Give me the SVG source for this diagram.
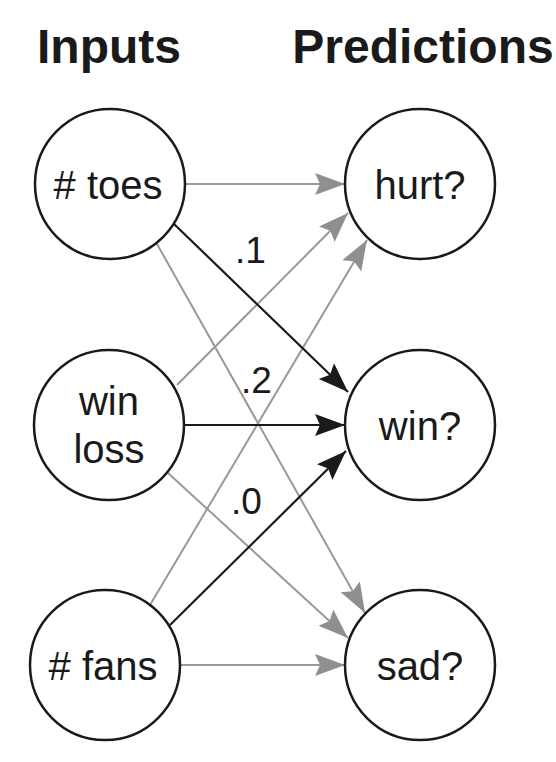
<svg xmlns="http://www.w3.org/2000/svg" width="556" height="762" viewBox="0 0 556 762">
<style>
.node circle{fill:#fff;stroke:#1a1a1a;stroke-width:2.5}
.lbl{font-family:"Liberation Sans",Arial,sans-serif;font-size:40px;fill:#1a1a1a;text-anchor:middle}
.hdr{font-family:"Liberation Sans",Arial,sans-serif;font-size:48px;font-weight:bold;fill:#1a1a1a;text-anchor:middle}
.w{font-family:"Liberation Sans",Arial,sans-serif;font-size:37px;fill:#1a1a1a}
.g{stroke:#999;stroke-width:2;fill:none;marker-end:url(#ag)}
.b{stroke:#1a1a1a;stroke-width:2.2;fill:none;marker-end:url(#ab)}
</style>
<defs>
<marker id="ag" markerUnits="userSpaceOnUse" markerWidth="32" markerHeight="24" refX="30" refY="11" orient="auto">
<path d="M0,0 L30,11 L0,22 L5,11 z" fill="#8f8f8f"/>
</marker>
<marker id="ab" markerUnits="userSpaceOnUse" markerWidth="32" markerHeight="24" refX="30" refY="11" orient="auto">
<path d="M0,0 L30,11 L0,22 L5,11 z" fill="#1a1a1a"/>
</marker>
</defs>
<text class="hdr" x="109" y="63">Inputs</text>
<text class="hdr" x="423" y="63">Predictions</text>
<g id="connectors">
<line class="g" x1="185" y1="184" x2="345" y2="184"/>
<line class="g" x1="157" y1="244" x2="365" y2="613"/>
<line class="g" x1="177" y1="385" x2="348" y2="213"/>
<line class="g" x1="168" y1="473" x2="348" y2="638"/>
<line class="g" x1="150" y1="605" x2="367" y2="240"/>
<line class="g" x1="180" y1="665" x2="345" y2="665"/>
<line class="b" x1="174" y1="224" x2="348" y2="392"/>
<line class="b" x1="185" y1="425" x2="345" y2="425"/>
<line class="b" x1="170" y1="625" x2="346" y2="451"/>
</g>
<g id="weights">
<text class="w" x="235" y="263">.1</text>
<text class="w" x="241" y="393">.2</text>
<text class="w" x="231" y="514">.0</text>
</g>
<g id="toes" class="node"><circle cx="110" cy="184" r="75"/><text class="lbl" x="108" y="199">#&#160;toes</text></g>
<g id="winloss" class="node"><circle cx="109" cy="425" r="75"/><text class="lbl" x="109" y="415">win</text><text class="lbl" x="109" y="463">loss</text></g>
<g id="fans" class="node"><circle cx="105" cy="665" r="75"/><text class="lbl" x="103" y="680">#&#160;fans</text></g>
<g id="hurt" class="node"><circle cx="420" cy="184" r="75"/><text class="lbl" x="420" y="199">hurt?</text></g>
<g id="win" class="node"><circle cx="420" cy="425" r="75"/><text class="lbl" x="420" y="440">win?</text></g>
<g id="sad" class="node"><circle cx="420" cy="665" r="75"/><text class="lbl" x="420" y="680">sad?</text></g>
</svg>
